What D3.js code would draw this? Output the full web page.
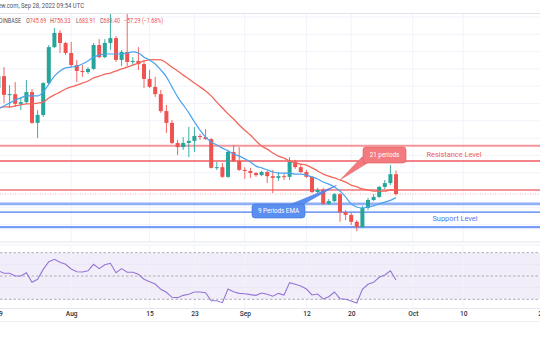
<!DOCTYPE html>
<html><head><meta charset="utf-8">
<script src="https://cdn.jsdelivr.net/npm/d3@7"></script>
<style>
html,body{margin:0;padding:0;background:#fff;overflow:hidden}
svg{display:block}
text{font-family:Roboto,"Liberation Sans",Arial,sans-serif}
</style>
</head><body>
<svg id="chart" width="540" height="340"></svg>
<script>
// ---------- DATA (MKR/USD daily, COINBASE) ----------
const startDate = "2022-07-19";
const opens = [995,1029,975,977,949,954,983,894,917,1009,1113,1154,1125,1096,1061,1044,1041,1050,1119,1084,1125,1139,1076,1099,1070,1073,1064,1021,998,977,928,894,836,824,836,842,856,853,847,764,766,738,810,784,758,755,749,743,752,740,735,740,738,781,766,752,738,694,700,660,668,688,636,628,608,593,648,671,680,709,720,745.69];
const highs = [1047,1055,1003,1012,969,1018,992,931,1012,1119,1168,1162,1128,1128,1076,1061,1055,1125,1136,1136,1209,1145,1105,1212,1084,1113,1076,1047,1027,989,946,902,845,853,882,882,862,876,850,781,778,816,830,824,766,764,752,755,755,758,752,749,795,787,772,758,740,706,706,674,691,691,642,634,613,654,677,688,712,729,772,756.33];
const lows = [983,951,937,940,931,949,891,850,911,1006,1110,1096,1090,1055,1012,1027,1035,1047,1081,1081,1105,1070,1058,1058,1061,1047,995,995,969,923,865,833,801,816,795,810,845,845,762,758,735,735,781,755,732,735,738,740,720,691,726,729,729,761,749,735,691,691,657,657,665,608,613,599,581,590,642,668,677,703,714,683.91];
const closes = [1029,975,977,949,954,983,894,917,1009,1113,1154,1125,1096,1061,1044,1041,1050,1119,1084,1125,1139,1076,1099,1070,1073,1064,1021,998,977,928,894,836,824,836,842,856,853,847,764,766,738,810,784,758,755,749,743,752,740,735,740,738,781,766,752,738,694,700,660,668,688,636,628,608,593,648,671,680,709,720,745.69,688.40];
const ema9 = [934,943,951,960,966,972,972,972,983,1006,1029,1044,1053,1055,1058,1064,1073,1084,1090,1093,1093,1093,1093,1096,1099,1096,1084,1076,1064,1047,1027,998,969,946,923,897,873,853,839,830,821,813,804,798,790,781,769,764,758,752,749,749,749,746,746,743,738,732,723,717,709,697,680,660,651,648,651,654,660,665,670,678];
const ema21 = [937,940,940,943,946,949,949,951,954,966,975,983,992,998,1003,1009,1015,1024,1029,1035,1038,1044,1050,1055,1061,1067,1073,1076,1077,1076,1067,1055,1044,1032,1021,1009,998,986,972,954,937,920,905,888,873,859,842,827,818,807,798,792,784,778,775,772,764,755,746,740,735,729,723,714,709,703,700,697,697,697,700,700];
const rsi = [54.5,52.3,52.3,50,50,52.8,44.6,47.2,55.7,62.3,64.3,61.8,60,56,53.7,53.4,54.5,60,56.3,59.7,60.9,52.8,56.3,53.2,53.2,51.5,47.2,45.1,43.1,38.6,36,31.7,31.4,33.4,34.3,36.3,36.3,35.7,28.8,28.8,27.1,38.8,36.5,35.1,34.8,34,33.4,35.4,34.3,32.7,35.1,33.7,44.3,42.9,41.4,38.8,33.7,34.5,30.3,32.2,36.3,30.5,30,28.5,26.8,38.6,42.9,44.6,48.9,50.9,54.5,46.6];
const tickDates = ["2022-07-19","2022-08-01","2022-08-15","2022-08-23","2022-09-01","2022-09-12","2022-09-20","2022-10-01","2022-10-10","2022-10-24"];
const tickLabels = ["19","Aug","15","23","Sep","12","20","Oct","10","24"];
const priceGrid = [550,600,650,700,750,800,850,900,950,1000,1050,1100,1150,1200];
const resistanceLevels = [828,784,700];
const supportLevels = [660,636,593];
const rsiLevels = [70,50,30];
const rsiGrid = [60,40];
const symbolName = "COINBASE";
const headerText = "TradingView.com, Sep 28, 2022 09:54 UTC";

// ---------- SETUP ----------
const parse = d3.utcParse("%Y-%m-%d");
const d0 = parse(startDate);
const data = opens.map((o,i)=>({date:d3.utcDay.offset(d0,i),o,h:highs[i],l:lows[i],c:closes[i],e9:ema9[i],e21:ema21[i],r:rsi[i]}));
const svg = d3.select("#chart");
const W = 540;
const mainTop = 14, mainBot = 242, rsiTop = 245, rsiBot = 308;

const x = d3.scaleUtc().domain([data[0].date, data[data.length-1].date]).range([-1.6, 396]);
const y = d3.scaleLinear().domain([700,1200]).range([190,17]);
const ry = d3.scaleLinear().domain([30,70]).range([299.3,252.7]);

const UP="#26a69a", DOWN="#ef5350", GRID="#f0f3fa";

const defs = svg.append("defs");
defs.append("clipPath").attr("id","mainClip").append("rect").attr("x",0).attr("y",mainTop).attr("width",W).attr("height",mainBot-mainTop);
defs.append("clipPath").attr("id","rsiClip").append("rect").attr("x",0).attr("y",rsiTop).attr("width",W).attr("height",rsiBot-rsiTop);

// ---------- HEADER (condensed to match) ----------
const HF = 6.6, GREY = "#50535e";
function measure(str){
  const t = svg.append("text").attr("font-size",HF).text(str);
  const l = t.node().getComputedTextLength(); t.remove(); return l;
}
// line 1: visible part "w.com, ... UTC" spans x 1..84
const visible = headerText.slice(headerText.indexOf("w.com"));
const s1 = 83 / measure(visible);
svg.append("text").attr("transform",`translate(84,8.4) scale(${s1},1)`).attr("text-anchor","end")
  .attr("font-size",HF).attr("fill",GREY).text(headerText);

const last = data[data.length-1], prev = data[data.length-2];
const fmt = d3.format(".2f");
const chg = last.c - prev.c;
// line 2 items: [label, value, x-start, target width]
const s2 = 20.3 / measure("O"+fmt(last.o));
svg.append("text").attr("transform",`translate(21,22.6) scale(${s2},1)`).attr("text-anchor","end")
  .attr("font-size",HF).attr("fill",GREY).text(symbolName);
const hdr = [["O",last.o,26],["H",last.h,50],["L",last.l,76],["C",last.c,100]];
hdr.forEach(([k,v,px])=>{
  const t = svg.append("text").attr("transform",`translate(${px},22.6) scale(${s2},1)`).attr("font-size",HF);
  t.append("tspan").attr("fill",GREY).text(k);
  t.append("tspan").attr("fill",DOWN).text(fmt(v));
});
svg.append("text").attr("transform",`translate(124,22.6) scale(${s2},1)`).attr("font-size",HF).attr("fill",DOWN)
  .text(fmt(chg)+" ("+fmt(chg/prev.c*100)+"%)");

// ---------- MAIN PANE ----------
svg.append("line").attr("x1",0).attr("x2",W).attr("y1",13.5).attr("y2",13.5).attr("stroke","#e0e3eb");
const main = svg.append("g").attr("clip-path","url(#mainClip)");
main.selectAll(".hg").data(priceGrid).join("line")
  .attr("x1",0).attr("x2",W).attr("y1",d=>y(d)).attr("y2",d=>y(d)).attr("stroke",GRID);
const tdates = tickDates.map(parse);
main.selectAll(".vg").data(tdates).join("line")
  .attr("x1",d=>x(d)).attr("x2",d=>x(d)).attr("y1",mainTop).attr("y2",mainBot).attr("stroke",GRID);

// levels
const resStyle = [{c:"#f4959a",w:2},{c:"#ef5a60",w:1.4},{c:"#f4959a",w:2}];
const supStyle = [{c:"#8fb0f6",w:2.6},{c:"#4a7cf0",w:1.4},{c:"#4a7cf0",w:1.6}];
main.selectAll(".res").data(resistanceLevels).join("line")
  .attr("x1",0).attr("x2",W).attr("y1",d=>y(d)).attr("y2",d=>y(d))
  .attr("stroke",(d,i)=>resStyle[i].c).attr("stroke-width",(d,i)=>resStyle[i].w);
main.selectAll(".sup").data(supportLevels).join("line")
  .attr("x1",0).attr("x2",W).attr("y1",d=>y(d)).attr("y2",d=>y(d))
  .attr("stroke",(d,i)=>supStyle[i].c).attr("stroke-width",(d,i)=>supStyle[i].w);
main.append("line").attr("x1",0).attr("x2",W).attr("y1",y(supportLevels[2])+1.5).attr("y2",y(supportLevels[2])+1.5)
  .attr("stroke","#dce6fc").attr("stroke-width",1.2);
main.append("line").attr("x1",0).attr("x2",W).attr("y1",y(last.c)).attr("y2",y(last.c))
  .attr("stroke","#f3a5a8").attr("stroke-width",0.8).attr("stroke-dasharray","1,1.5");

// candles
const cg = main.append("g");
cg.selectAll(".wick").data(data).join("line")
  .attr("x1",d=>x(d.date)).attr("x2",d=>x(d.date)).attr("y1",d=>y(d.h)).attr("y2",d=>y(d.l))
  .attr("stroke",d=>d.c>=d.o?UP:DOWN).attr("stroke-width",0.9);
cg.selectAll(".body").data(data).join("rect")
  .attr("x",d=>x(d.date)-2).attr("width",4)
  .attr("y",d=>y(Math.max(d.o,d.c))).attr("height",d=>Math.max(1,Math.abs(y(d.o)-y(d.c))))
  .attr("fill",d=>d.c>=d.o?UP:DOWN);

// EMAs
main.append("path").datum(data).attr("fill","none").attr("stroke","#f2665c").attr("stroke-width",1.3)
  .attr("d",d3.line().x(d=>x(d.date)).y(d=>y(d.e21)).curve(d3.curveMonotoneX));
main.append("path").datum(data).attr("fill","none").attr("stroke","#4aa3f0").attr("stroke-width",1.2)
  .attr("d",d3.line().x(d=>x(d.date)).y(d=>y(d.e9)).curve(d3.curveMonotoneX));

// labels
main.append("text").attr("x",454).attr("y",156.6).attr("text-anchor","middle").attr("font-size",7.4).attr("fill","#ef5a60").text("Resistance Level");
main.append("text").attr("x",455).attr("y",221.2).attr("text-anchor","middle").attr("font-size",7.4).attr("fill","#4a7cf0").text("Support Level");

// callouts
const t21 = data[61], t9 = data[60];
main.append("path").attr("d",`M362,157 L369,162 L${x(t21.date)},${y(t21.e21)} Z`).attr("fill","#f37b7f").attr("stroke","#d9676b").attr("stroke-width",0.5);
main.append("rect").attr("x",363).attr("y",147).attr("width",43).attr("height",16).attr("rx",3)
  .attr("fill","#f37b7f").attr("stroke","#e0575d").attr("stroke-width",0.6);
main.append("text").attr("x",384.5).attr("y",157.3).attr("text-anchor","middle").attr("font-size",6.3).attr("fill","#fff").text("21 periods");

main.append("path").attr("d",`M289,205 L302,205 L${x(t9.date)+2},${y(t9.e9)-1.5} Z`).attr("fill","#5a8ef0").attr("stroke","#3f74e0").attr("stroke-width",0.5);
main.append("rect").attr("x",252).attr("y",204).attr("width",53).attr("height",14).attr("rx",3)
  .attr("fill","#5a8ef0").attr("stroke","#3f74e0").attr("stroke-width",0.6);
main.append("text").attr("x",278.5).attr("y",213.3).attr("text-anchor","middle").attr("font-size",6.3).attr("fill","#fff").text("9 Periods EMA");

// pane separator
svg.append("line").attr("x1",0).attr("x2",W).attr("y1",242).attr("y2",242).attr("stroke","#e6e8ef");
svg.append("line").attr("x1",0).attr("x2",W).attr("y1",245).attr("y2",245).attr("stroke","#eef0f4");

// ---------- RSI PANE ----------
const rg = svg.append("g").attr("clip-path","url(#rsiClip)");
rg.append("rect").attr("x",0).attr("width",W).attr("y",ry(70)).attr("height",ry(30)-ry(70)).attr("fill","rgba(126,87,194,0.1)");
rg.selectAll(".rv").data(tdates).join("line")
  .attr("x1",d=>x(d)).attr("x2",d=>x(d)).attr("y1",rsiTop).attr("y2",rsiBot).attr("stroke",GRID);
rg.selectAll(".rgl").data(rsiGrid).join("line")
  .attr("x1",0).attr("x2",W).attr("y1",d=>ry(d)).attr("y2",d=>ry(d)).attr("stroke","#ebe6f5");
rg.selectAll(".rl").data(rsiLevels).join("line")
  .attr("x1",0).attr("x2",W).attr("y1",d=>ry(d)).attr("y2",d=>ry(d))
  .attr("stroke","#9a9ba3").attr("stroke-width",0.8).attr("stroke-dasharray","2.5,2");
rg.append("path").datum(data).attr("fill","none").attr("stroke","#9475d6").attr("stroke-width",1.1)
  .attr("d",d3.line().x(d=>x(d.date)).y(d=>ry(d.r)));

// ---------- TIME AXIS ----------
svg.append("line").attr("x1",0).attr("x2",W).attr("y1",308.5).attr("y2",308.5).attr("stroke","#e6e8ef");
svg.append("line").attr("x1",0).attr("x2",W).attr("y1",321.5).attr("y2",321.5).attr("stroke","#eef0f4");
const xAxis = d3.axisBottom(x).tickValues(tdates).tickSize(0).tickFormat((d,i)=>tickLabels[i]);
const ax = svg.append("g").attr("transform","translate(0,310)").call(xAxis);
ax.select(".domain").remove();
ax.selectAll("text").attr("font-size",6.6).attr("fill","#2f323c").attr("font-weight",500).attr("font-family","Roboto,'Liberation Sans',Arial,sans-serif").attr("dy","0.55em").attr("y",2);
</script>
</body></html>
